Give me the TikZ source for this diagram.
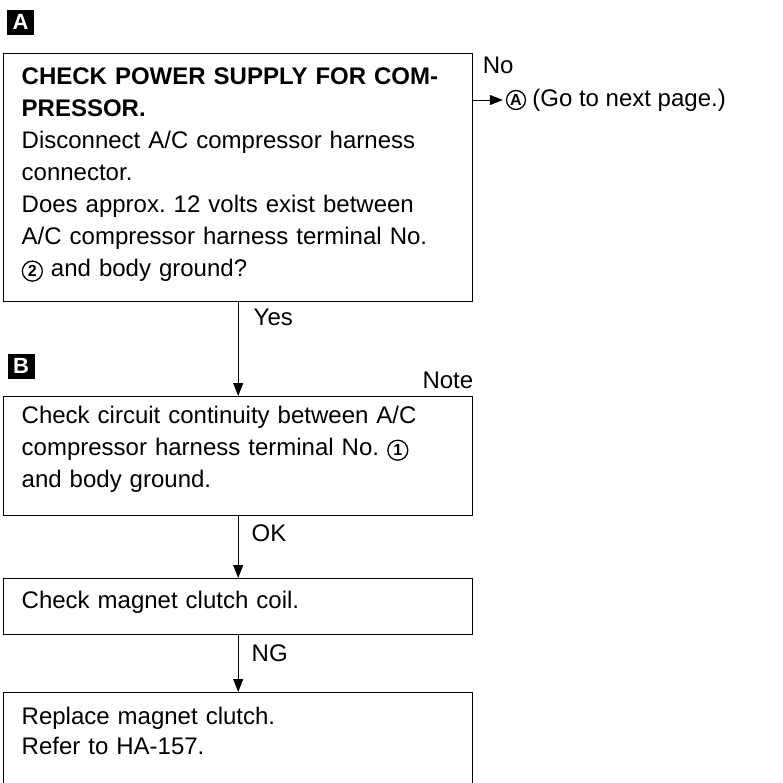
\documentclass[tikz,border=0pt]{standalone}
\usepackage{fontspec}
\setmainfont{Liberation Sans}
\usetikzlibrary{positioning,arrows.meta}
\frenchspacing

\newcommand{\cnum}[1]{\tikz[baseline=(cn.base)]\node[circle,draw,line width=1.3pt,inner sep=0pt,minimum size=20pt,font=\bfseries\fontsize{16}{16}\selectfont] (cn) {#1};}

\tikzset{
  paso/.style={draw, line width=1.4pt, anchor=north west, align=left,
    text width=433pt, inner xsep=18pt, inner ysep=0pt,
    font=\fontsize{24}{32}\selectfont},
  flecha/.style={line width=1pt, -{Triangle[length=13pt,width=10pt]}},
  etiq/.style={anchor=base west, inner sep=0pt, font=\fontsize{24}{24}\selectfont},
  marca/.style={fill=black, text=white, inner sep=0pt,
    font=\bfseries\fontsize{22}{22}\selectfont, minimum width=27pt, minimum height=25pt}
}

\begin{document}
\begin{tikzpicture}[x=1pt, y=-1pt]
        \clip (0,0) rectangle (783,782);
        % marcas
        \node[marca] (ma) at (20.5,22) {A};
        \node[marca] (mb) at (21,366) {B};
        % pasos
        \node[paso, text height=31pt, text depth=217pt] (p1) at (3,53)
          {\textbf{CHECK POWER SUPPLY FOR COM-}\\
           \textbf{PRESSOR.}\\
           Disconnect A/C compressor harness\\
           connector.\\
           Does approx. 12 volts exist between\\
           A/C compressor harness terminal No.\\
           \cnum{2} and body ground?};
        \node[paso, text height=27pt, text depth=92pt] (p2) at (3,396)
          {Check circuit continuity between A/C\\
           compressor harness terminal No. \cnum{1}\\
           and body ground.};
        \node[paso, text height=30pt, text depth=26pt] (p3) at (3,578)
          {Check magnet clutch coil.};
        \node[paso, text height=32pt, text depth=140pt] (p4) at (3,692)
          {Replace magnet clutch.\\[-2pt]
           Refer to HA-157.};
        \node[etiq, anchor=base east] (nota) at ([yshift=8pt]p2.north east) {Note};
        % salida No
        \node[circle, draw, line width=1.3pt, inner sep=0pt, minimum size=19pt,
          font=\bfseries\fontsize{16}{16}\selectfont] (circA) at (516,100) {A};
        \node[right=6pt of circA, inner sep=0pt, font=\fontsize{24}{24}\selectfont] (pag)
          {(Go to next page.)};
        \draw[flecha, shorten >=3pt] (circA -| p1.east) -- (circA)
          node[etiq, pos=0, xshift=9pt, yshift=27pt] (no) {No};
        % flechas
        \draw[flecha] (p1.south) -- (p2.north)
          node[etiq, pos=0, xshift=15pt, yshift=-23pt] (si) {Yes};
        \draw[flecha] (p2.south) -- (p3.north)
          node[etiq, pos=0, xshift=13pt, yshift=-25pt] (ok) {OK};
        \draw[flecha] (p3.south) -- (p4.north)
          node[etiq, pos=0, xshift=13pt, yshift=-26pt] (ng) {NG};
      \end{tikzpicture}
\end{document}
